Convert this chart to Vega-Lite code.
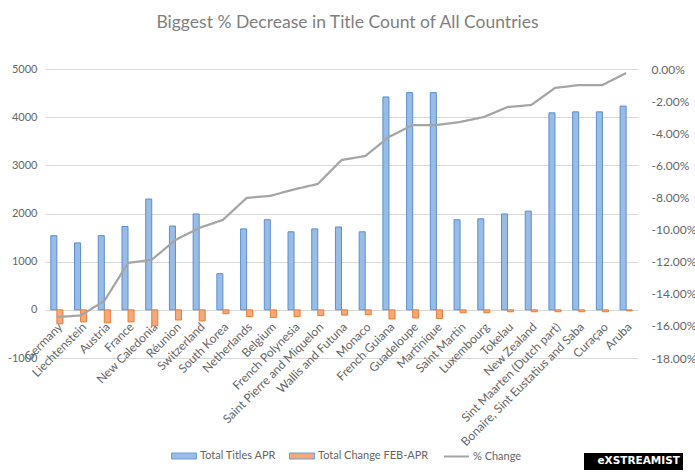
{
  "$schema": "https://vega.github.io/schema/vega-lite/v6.json",
  "width": 593,
  "height": 289,
  "autosize": {"type": "none"},
  "padding": {"left": 45, "top": 69, "right": 57, "bottom": 118},
  "background": "white",
  "title": {
    "text": "Biggest % Decrease in Title Count of All Countries",
    "fontSize": 17.5,
    "font": "Lato",
    "fontWeight": "normal",
    "color": "#7F7F7F",
    "anchor": "middle",
    "dx": 6,
    "offset": 32
  },
  "config": {
    "view": {"stroke": null},
    "font": "Lato",
    "axis": {"labelFont": "Lato", "labelColor": "#666666", "labelFontSize": 11},
    "legend": {"labelFont": "Lato", "labelColor": "#666666", "labelFontSize": 11}
  },
  "data": {
    "values": [
      {"country": "Germany", "apr": 1540, "chg": -290, "pct": -0.1545},
      {"country": "Liechtenstein", "apr": 1390, "chg": -250, "pct": -0.1535},
      {"country": "Austria", "apr": 1540, "chg": -270, "pct": -0.1445},
      {"country": "France", "apr": 1730, "chg": -250, "pct": -0.1208},
      {"country": "New Caledonia", "apr": 2300, "chg": -330, "pct": -0.1188},
      {"country": "Réunion", "apr": 1740, "chg": -210, "pct": -0.1065},
      {"country": "Switzerland", "apr": 1990, "chg": -230, "pct": -0.099},
      {"country": "South Korea", "apr": 750, "chg": -80, "pct": -0.094},
      {"country": "Netherlands", "apr": 1680, "chg": -140, "pct": -0.0803},
      {"country": "Belgium", "apr": 1870, "chg": -160, "pct": -0.079},
      {"country": "French Polynesia", "apr": 1620, "chg": -140, "pct": -0.075},
      {"country": "Saint Pierre and Miquelon", "apr": 1680, "chg": -120, "pct": -0.0716},
      {"country": "Wallis and Futuna", "apr": 1720, "chg": -110, "pct": -0.0567},
      {"country": "Monaco", "apr": 1620, "chg": -100, "pct": -0.0542},
      {"country": "French Guiana", "apr": 4420, "chg": -190, "pct": -0.0423},
      {"country": "Guadeloupe", "apr": 4510, "chg": -170, "pct": -0.0349},
      {"country": "Martinique", "apr": 4510, "chg": -180, "pct": -0.0349},
      {"country": "Saint Martin", "apr": 1870, "chg": -60, "pct": -0.033},
      {"country": "Luxembourg", "apr": 1890, "chg": -60, "pct": -0.0299},
      {"country": "Tokelau", "apr": 1990, "chg": -40, "pct": -0.0237},
      {"country": "New Zealand", "apr": 2050, "chg": -40, "pct": -0.0224},
      {"country": "Sint Maarten (Dutch part)", "apr": 4090, "chg": -40, "pct": -0.0118},
      {"country": "Bonaire, Sint Eustatius and Saba", "apr": 4110, "chg": -40, "pct": -0.010},
      {"country": "Curaçao", "apr": 4110, "chg": -40, "pct": -0.010},
      {"country": "Aruba", "apr": 4230, "chg": -20, "pct": -0.0025}
    ]
  },
  "encoding": {
    "x": {
      "field": "country",
      "type": "nominal",
      "sort": null,
      "scale": {"paddingInner": 0.49, "paddingOuter": 0.245},
      "axis": {
        "title": null,
        "offset": -48,
        "labelAngle": -45,
        "labelAlign": "right",
        "labelBaseline": "top",
        "labelPadding": 11,
        "labelFontSize": 12,
        "ticks": false,
        "domainColor": "#D9D9D9",
        "grid": false
      }
    }
  },
  "layer": [
    {
      "transform": [{"fold": ["apr", "chg"], "as": ["series", "value"]}],
      "mark": {"type": "bar", "strokeWidth": 1},
      "encoding": {
        "xOffset": {"field": "series", "type": "nominal", "scale": {"domain": ["apr", "chg"], "paddingInner": 0, "paddingOuter": 0}},
        "y": {
          "field": "value",
          "type": "quantitative",
          "scale": {"domain": [-1000, 5000], "nice": false, "zero": false},
          "axis": {
            "title": null,
            "values": [-1000, 0, 1000, 2000, 3000, 4000, 5000],
            "labelExpr": "replace(format(datum.value, 'd'), '\u2212', '-')",
            "grid": true,
            "gridColor": "#D9D9D9",
            "domain": false,
            "ticks": false,
            "labelPadding": 8
          }
        },
        "fill": {
          "field": "series",
          "type": "nominal",
          "scale": {"domain": ["apr", "chg"], "range": ["#98BCE6", "#F5A87B"]},
          "legend": {
            "title": null,
            "orient": "none",
            "direction": "horizontal",
            "legendX": 126,
            "legendY": 374,
            "padding": 0,
            "columnPadding": 10,
            "labelOffset": 3,
            "symbolType": "M-1,-0.24H1V0.24H-1Z",
            "symbolSize": 625,
            "symbolStrokeWidth": 1,
            "symbolStrokeColor": "#6E9ED8",
            "labelExpr": "datum.label == 'apr' ? 'Total Titles APR' : 'Total Change FEB-APR'"
          }
        },
        "stroke": {
          "field": "series",
          "type": "nominal",
          "scale": {"domain": ["apr", "chg"], "range": ["#5B8FD0", "#ED7D31"]},
          "legend": null
        }
      }
    },
    {
      "mark": {"type": "line", "strokeWidth": 2.25},
      "encoding": {
        "y": {
          "field": "pct",
          "type": "quantitative",
          "scale": {"domain": [-0.18, 0], "nice": false, "zero": false},
          "axis": {
            "title": null,
            "orient": "right",
            "values": [-0.18, -0.16, -0.14, -0.12, -0.10, -0.08, -0.06, -0.04, -0.02, 0],
            "labelExpr": "replace(format(datum.value, '.2%'), '\u2212', '-')",
            "labelFontSize": 12,
            "grid": false,
            "domain": false,
            "ticks": false,
            "labelPadding": 13
          }
        },
        "stroke": {
          "datum": "% Change",
          "type": "nominal",
          "scale": {"domain": ["% Change"], "range": ["#A5A5A5"]},
          "legend": {
            "title": null,
            "orient": "none",
            "legendX": 398,
            "legendY": 374,
            "padding": 0,
            "labelOffset": 3,
            "symbolType": "stroke",
            "symbolSize": 625,
            "symbolStrokeWidth": 2
          }
        },
        "strokeDash": {
          "datum": "eXSTREAMIST",
          "type": "nominal",
          "scale": {"domain": ["eXSTREAMIST"], "range": [[1, 0]]},
          "legend": {
            "title": null,
            "orient": "none",
            "legendX": 539,
            "legendY": 384,
            "padding": 3,
            "fillColor": "#000000",
            "symbolType": "circle",
            "symbolSize": 0,
            "symbolOpacity": 0,
            "symbolStrokeWidth": 0,
            "labelOffset": 0,
            "labelColor": "#FFFFFF",
            "labelFont": "DejaVu Sans",
            "labelFontWeight": "bold",
            "labelFontSize": 10.5
          }
        }
      }
    }
  ],
  "resolve": {
    "scale": {"y": "independent", "stroke": "independent"},
    "legend": {"stroke": "independent"}
  }
}
